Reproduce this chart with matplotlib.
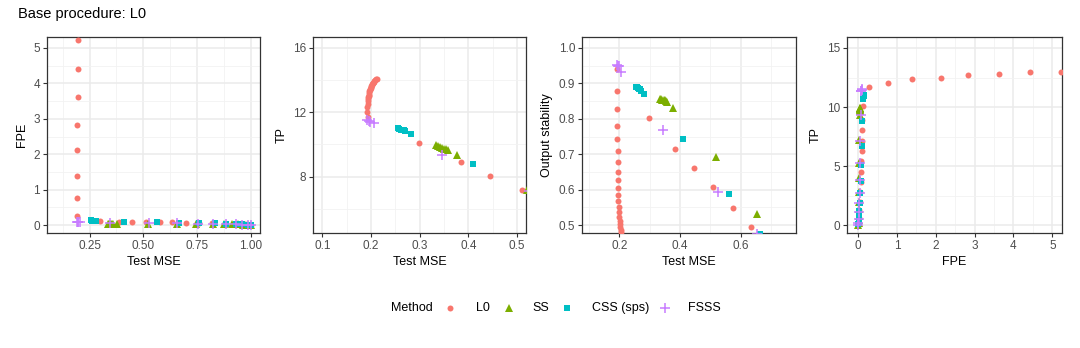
import matplotlib.pyplot as plt
from matplotlib.lines import Line2D
import numpy as np

plt.rcParams['font.family'] = ['Liberation Sans', 'DejaVu Sans']

methods = ["L0", "SS", "CSS (sps)", "FSSS"]
colors = ["#F8766D", "#7CAE00", "#00BFC4", "#C77CFF"]

# L0 path: large models first, then the sparse end
l0_mse = [0.193, 0.191, 0.192, 0.193, 0.193, 0.194, 0.194, 0.195, 0.195, 0.196,
          0.196, 0.197, 0.198, 0.199, 0.200, 0.201, 0.202, 0.203, 0.204, 0.205,
          0.206, 0.207, 0.209, 0.211, 0.213,
          0.298, 0.385, 0.445, 0.510, 0.575, 0.635, 0.697, 0.760, 0.820, 0.880,
          0.930, 0.970, 1.000]
l0_fpe = [0.27, 0.76, 1.38, 2.12, 2.83, 3.63, 4.42, 5.22, 6.0, 6.8,
          7.6, 8.4, 9.2, 10.0, 10.8, 11.6, 12.4, 13.2, 14.0, 14.8,
          15.6, 16.4, 17.2, 18.0, 18.8,
          0.12, 0.10, 0.10, 0.09, 0.09, 0.08, 0.07, 0.06, 0.05, 0.04,
          0.03, 0.02, 0.0]
l0_tp = [11.7, 12.05, 12.35, 12.5, 12.7, 12.8, 12.95, 13.0, 13.1, 13.2,
         13.3, 13.4, 13.45, 13.5, 13.6, 13.65, 13.7, 13.75, 13.8, 13.85,
         13.9, 13.95, 14.0, 14.05, 14.1,
         10.1, 8.9, 8.05, 7.15, 6.3, 5.45, 4.55, 3.65, 2.8, 2.0,
         1.3, 0.6, 0.0]
l0_stab = [0.940, 0.878, 0.827, 0.780, 0.743, 0.708, 0.678, 0.650, 0.627, 0.605,
           0.585, 0.567, 0.551, 0.537, 0.524, 0.513, 0.504, 0.494, 0.487, 0.480,
           0.473, 0.466, 0.460, 0.455, 0.450,
           0.803, 0.716, 0.662, 0.607, 0.548, 0.495, 0.440, 0.390, 0.340, 0.300,
           0.260, 0.230, 0.200]

ss_mse = [0.334, 0.338, 0.342, 0.346, 0.350, 0.354, 0.358, 0.376, 0.520, 0.655,
          0.745, 0.825, 0.875, 0.910, 0.940, 0.965, 0.985, 0.998]
ss_fpe = [0.04, 0.04, 0.04, 0.04, 0.04, 0.04, 0.04, 0.04, 0.03, 0.03,
          0.03, 0.03, 0.02, 0.02, 0.02, 0.01, 0.01, 0.0]
ss_tp = [9.95, 9.9, 9.85, 9.8, 9.75, 9.7, 9.65, 9.35, 7.2, 5.3,
         4.0, 2.85, 1.95, 1.35, 0.8, 0.45, 0.2, 0.05]
ss_stab = [0.856, 0.855, 0.854, 0.853, 0.852, 0.850, 0.848, 0.832, 0.692, 0.533,
           0.420, 0.350, 0.300, 0.260, 0.230, 0.210, 0.200, 0.190]

css_mse = [0.255, 0.258, 0.261, 0.264, 0.267, 0.270, 0.282, 0.410, 0.562, 0.665,
           0.760, 0.835, 0.885, 0.930, 0.960, 0.985, 0.998]
css_fpe = [0.14, 0.14, 0.13, 0.13, 0.12, 0.12, 0.11, 0.10, 0.09, 0.07,
           0.06, 0.05, 0.04, 0.03, 0.02, 0.01, 0.0]
css_tp = [11.0, 10.97, 10.93, 10.9, 10.87, 10.83, 10.65, 8.8, 6.7, 5.1,
          3.75, 2.7, 1.9, 1.2, 0.7, 0.3, 0.1]
css_stab = [0.891, 0.889, 0.887, 0.885, 0.883, 0.880, 0.871, 0.742, 0.588, 0.475,
            0.400, 0.340, 0.290, 0.250, 0.220, 0.200, 0.190]

fsss_mse = [0.192, 0.195, 0.198, 0.207, 0.345, 0.525, 0.655, 0.755, 0.825, 0.885,
            0.930, 0.960, 0.985, 0.998]
fsss_fpe = [0.09, 0.09, 0.08, 0.08, 0.07, 0.05, 0.05, 0.04, 0.04, 0.03,
            0.02, 0.01, 0.0, 0.0]
fsss_tp = [11.5, 11.45, 11.4, 11.35, 9.35, 7.1, 5.25, 3.8, 2.7, 1.85,
           1.1, 0.5, 0.2, 0.05]
fsss_stab = [0.952, 0.950, 0.948, 0.933, 0.768, 0.595, 0.476, 0.400, 0.340, 0.290,
             0.250, 0.220, 0.200, 0.190]

data = {
    "L0": dict(mse=l0_mse, fpe=l0_fpe, tp=l0_tp, stab=l0_stab),
    "SS": dict(mse=ss_mse, fpe=ss_fpe, tp=ss_tp, stab=ss_stab),
    "CSS (sps)": dict(mse=css_mse, fpe=css_fpe, tp=css_tp, stab=css_stab),
    "FSSS": dict(mse=fsss_mse, fpe=fsss_fpe, tp=fsss_tp, stab=fsss_stab),
}
markers = {"L0": "o", "SS": "^", "CSS (sps)": "s", "FSSS": "+"}
msizes = {"L0": 4.3, "SS": 6.0, "CSS (sps)": 4.4, "FSSS": 7.0}

W, H = 1080, 348
fig = plt.figure(figsize=(W / 100, H / 100), dpi=100)

# panel pixel boxes: left, right, top, bottom
boxes = [(47, 260, 37, 233), (313, 526, 37, 233), (582, 796, 37, 233), (847, 1062, 37, 233)]
panels = [
    ("mse", "fpe", "Test MSE", "FPE", (0.052, 1.042), (-0.22, 5.31),
     [0.25, 0.5, 0.75, 1.0], ["0.25", "0.50", "0.75", "1.00"], np.arange(0.125, 1.1, 0.25),
     [0, 1, 2, 3, 4, 5], ["0", "1", "2", "3", "4", "5"], np.arange(0.5, 5.5, 1.0)),
    ("mse", "tp", "Test MSE", "TP", (0.081, 0.518), (4.5, 16.68),
     [0.1, 0.2, 0.3, 0.4, 0.5], ["0.1", "0.2", "0.3", "0.4", "0.5"], np.arange(0.15, 0.5, 0.1),
     [8, 12, 16], ["8", "12", "16"], [6, 10, 14]),
    ("mse", "stab", "Test MSE", "Output stability", (0.077, 0.782), (0.478, 1.031),
     [0.2, 0.4, 0.6], ["0.2", "0.4", "0.6"], [0.1, 0.3, 0.5, 0.7],
     [0.5, 0.6, 0.7, 0.8, 0.9, 1.0], ["0.5", "0.6", "0.7", "0.8", "0.9", "1.0"],
     np.arange(0.55, 1.0, 0.1)),
    ("fpe", "tp", "FPE", "TP", (-0.29, 5.25), (-0.65, 15.93),
     [0, 1, 2, 3, 4, 5], ["0", "1", "2", "3", "4", "5"], np.arange(0.5, 5.5, 1.0),
     [0, 5, 10, 15], ["0", "5", "10", "15"], [2.5, 7.5, 12.5]),
]

for (l, r, t, b), p in zip(boxes, panels):
    xk, yk, xl, yl, xlim, ylim, xt, xtl, xm, yt, ytl, ym = p
    ax = fig.add_axes([l / W, 1 - b / H, (r - l) / W, (b - t) / H])
    for i, m in enumerate(methods):
        d = data[m]
        ax.plot(d[xk], d[yk], linestyle="none", marker=markers[m], color=colors[i],
                markersize=msizes[m], markeredgewidth=1.1 if m == "FSSS" else 0, zorder=3)
    ax.set_xlim(xlim)
    ax.set_ylim(ylim)
    ax.set_xticks(xt)
    ax.set_xticklabels(xtl)
    ax.set_yticks(yt)
    ax.set_yticklabels(ytl)
    ax.set_xticks(xm, minor=True)
    ax.set_yticks(ym, minor=True)
    ax.grid(True, which="major", color="#EBEBEB", linewidth=1.1, zorder=0)
    ax.grid(True, which="minor", color="#F2F2F2", linewidth=0.6, zorder=0)
    ax.set_axisbelow(True)
    ax.tick_params(which="major", length=3, width=0.8, color="#333333",
                   labelsize=8.5, labelcolor="#4D4D4D", pad=2)
    ax.tick_params(which="minor", length=0)
    for s in ax.spines.values():
        s.set_color("#333333")
        s.set_linewidth(0.9)
    ax.set_xlabel(xl, fontsize=9, labelpad=3)
    ax.set_ylabel(yl, fontsize=9, labelpad=4)

fig.text(18 / W, 1 - 14 / H, "Base procedure: L0", fontsize=10.5, va="center", ha="left")

# legend drawn by hand, ggplot-style: title on the left, keys in one row
ly = 1 - 308 / H
fig.text(391 / W, ly, "Method", fontsize=9, va="center", ha="left")
key_x = [450, 509, 567, 665]
lab_x = [476, 532, 592, 688]
for i, m in enumerate(methods):
    fig.add_artist(Line2D([key_x[i] / W], [ly], transform=fig.transFigure, linestyle="none",
                          marker=markers[m], color=colors[i], markersize=msizes[m],
                          markeredgewidth=1.1 if m == "FSSS" else 0))
    fig.text(lab_x[i] / W, ly, m, fontsize=9, va="center", ha="left")

fig.savefig("out.png", dpi=100)
